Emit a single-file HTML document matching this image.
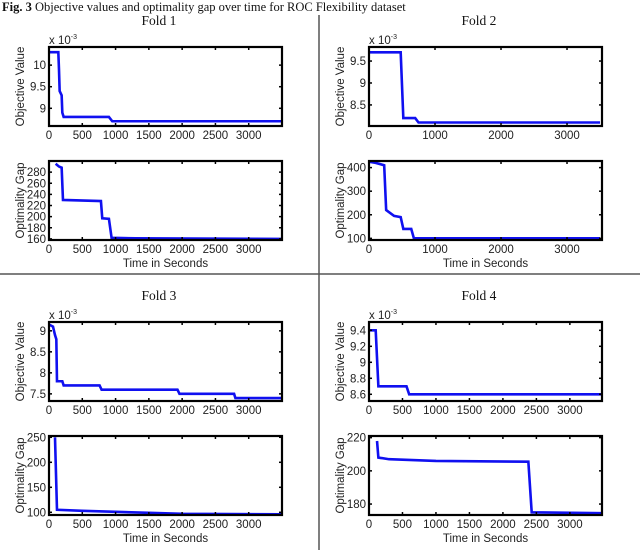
<!DOCTYPE html>
<html><head><meta charset="utf-8"><style>
body{margin:0;background:#fff;width:640px;height:550px;overflow:hidden}
svg{display:block}
.t{font-family:"Liberation Sans",sans-serif;font-size:11.5px;fill:#222}
.s{font-family:"Liberation Serif",serif;fill:#111}
</style></head><body>
<svg id="c" width="640" height="550" xmlns="http://www.w3.org/2000/svg">
<text class="s" x="2" y="11" font-size="12.5"><tspan font-weight="bold">Fig. 3</tspan>  Objective values and optimality gap over time for ROC Flexibility dataset</text>
<line x1="319" y1="15" x2="319" y2="550" stroke="#555" stroke-width="1.5"/>
<line x1="0" y1="274" x2="640" y2="274" stroke="#555" stroke-width="1.5"/>
</svg>
<script>
// Fold 1
const f1ObjT=[0,140,150,160,190,200,220,900,950,3500];
const f1ObjV=[10.3,10.3,9.9,9.4,9.3,8.9,8.8,8.8,8.7,8.7];
const f1GapT=[100,150,190,210,780,800,900,940,1300,3500];
const f1GapV=[295,290,288,230,228,197,196,162,161,160];
// Fold 2
const f2ObjT=[0,480,520,700,750,3500];
const f2ObjV=[9.7,9.7,8.2,8.2,8.1,8.1];
const f2GapT=[0,100,230,260,380,480,520,640,680,3500];
const f2GapV=[425,420,410,220,195,190,140,140,100,100];
// Fold 3
const f3ObjT=[0,60,90,110,120,200,220,760,790,1930,1960,2780,2800,3500];
const f3ObjV=[9.15,9.1,8.9,8.8,7.8,7.8,7.7,7.7,7.6,7.6,7.5,7.5,7.4,7.4];
const f3GapT=[90,120,500,1000,1500,2000,3500];
const f3GapV=[250,105,103,101,99,97,96];
// Fold 4
const f4ObjT=[0,100,140,560,600,3480];
const f4ObjV=[9.4,9.4,8.7,8.7,8.6,8.6];
const f4GapT=[120,140,300,1000,2380,2430,3480];
const f4GapV=[218,208,207,206,205.5,175,174.5];
// axes ranges and tick labels
const f1ObjTicks=[9,9.5,10], f1GapTicks=[160,180,200,220,240,260,280];
const f2ObjTicks=[8.5,9,9.5], f2GapTicks=[100,200,300,400];
const f3ObjTicks=[7.5,8,8.5,9], f3GapTicks=[100,150,200,250];
const f4ObjTicks=[8.6,8.8,9,9.2,9.4], f4GapTicks=[180,200,220];
const xTicks500=[0,500,1000,1500,2000,2500,3000], xTicks1000=[0,1000,2000,3000];

const NS='http://www.w3.org/2000/svg', svg=document.getElementById('c');
function mk(tag,attrs,parent){const e=document.createElementNS(NS,tag);for(const k in attrs)e.setAttribute(k,attrs[k]);(parent||svg).appendChild(e);return e;}

function axes(g,x0,y0,w,h,xmax,ymin,ymax,xt,yt,T,V,ylab,showX,name,exp){
  const sx=v=>x0+v/xmax*w, sy=v=>y0+h-(v-ymin)/(ymax-ymin)*h;
  const line=mk('polyline',{points:T.map((t,i)=>sx(t)+','+sy(V[i])).join(' '),fill:'none',stroke:'#1010f0','stroke-width':2.6},g);
  
  
  const box=mk('rect',{x:x0,y:y0,width:w,height:h,fill:'none',stroke:'#000','stroke-width':2.2},g);
  
  
  xt.forEach(v=>{
    mk('line',{x1:sx(v),x2:sx(v),y1:y0,y2:y0+3,stroke:'#000','stroke-width':1.5},g);
    mk('line',{x1:sx(v),x2:sx(v),y1:y0+h,y2:y0+h-3,stroke:'#000','stroke-width':1.5},g);
    const t=mk('text',{x:sx(v),y:y0+h+13,'text-anchor':'middle',class:'t'},g);t.textContent=v;
    
    
  });
  yt.forEach(v=>{
    mk('line',{x1:x0,x2:x0+3,y1:sy(v),y2:sy(v),stroke:'#000','stroke-width':1.5},g);
    mk('line',{x1:x0+w,x2:x0+w-3,y1:sy(v),y2:sy(v),stroke:'#000','stroke-width':1.5},g);
    const t=mk('text',{x:x0-3,y:sy(v)+4,'text-anchor':'end',class:'t'},g);t.textContent=v;
    
    
  });
  const yl=mk('text',{x:0,y:0,'text-anchor':'middle',class:'t',transform:`translate(${x0-25},${y0+h/2}) rotate(-90)`},g);
  yl.textContent=ylab;
  
  
  if(exp){const e=mk('text',{x:x0,y:y0-3,class:'t'},g);e.innerHTML='x 10<tspan dy="-5" font-size="7">-3</tspan>';
    
    }
  if(showX){const xl=mk('text',{x:x0+w/2,y:y0+h+27,'text-anchor':'middle',class:'t'},g);xl.textContent='Time in Seconds';
    
    }
}
function panel(ox,oy,title,xmax,xt,oT,oV,oMin,oMax,oTicks,gT,gV,gMin,gMax,gTicks,name){
  const g=mk('g',{});
  
  
  const t=mk('text',{x:ox+159,y:oy+25,'text-anchor':'middle',class:'s','font-size':'13.5'},g);t.textContent=title;
  
  
  axes(g,ox+49,oy+47,233,79,xmax,oMin,oMax,xt,oTicks,oT,oV,'Objective Value',false,name+'-objective',true);
  axes(g,ox+49,oy+161,233,79,xmax,gMin,gMax,xt,gTicks,gT,gV,'Optimality Gap',true,name+'-gap',false);
}
panel(0,0,'Fold 1',3500,xTicks500,f1ObjT,f1ObjV,8.59,10.42,f1ObjTicks,f1GapT,f1GapV,158,300,f1GapTicks,'fold-1');
panel(320,0,'Fold 2',3530,xTicks1000,f2ObjT,f2ObjV,8.02,9.82,f2ObjTicks,f2GapT,f2GapV,93,428,f2GapTicks,'fold-2');
panel(0,275,'Fold 3',3500,xTicks500,f3ObjT,f3ObjV,7.33,9.21,f3ObjTicks,f3GapT,f3GapV,94.6,252.6,f3GapTicks,'fold-3');
panel(320,275,'Fold 4',3480,xTicks500,f4ObjT,f4ObjV,8.516,9.504,f4ObjTicks,f4GapT,f4GapV,173.4,221,f4GapTicks,'fold-4');
</script>
</body></html>
